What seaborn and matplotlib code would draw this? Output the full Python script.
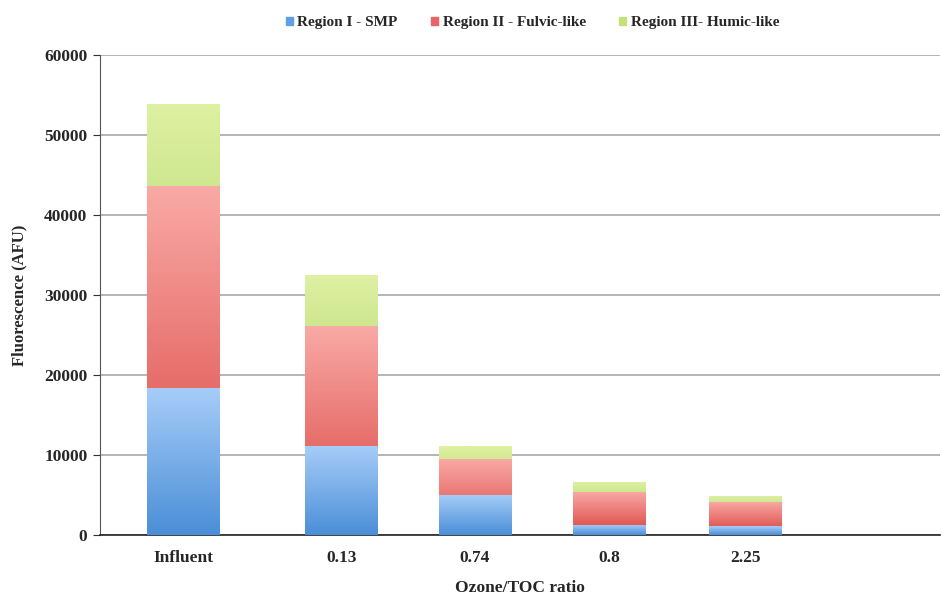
import numpy as np
import pandas as pd
import matplotlib
matplotlib.use("Agg")
import matplotlib.pyplot as plt
from matplotlib.colors import LinearSegmentedColormap
import seaborn as sns

# data
ratios = ["Influent", "0.13", "0.74", "0.8", "2.25"]
smp = [18400, 11200, 5000, 1250, 1100]
fulvic = [25200, 14900, 4500, 4150, 3050]
humic = [10300, 6400, 1600, 1250, 750]
series_names = ["Region I - SMP", "Region II - Fulvic-like", "Region III- Humic-like"]

# layout: bar centres (the first category is a bit wider in the original)
xpos = [0, 1.175, 2.17, 3.17, 4.18]

sns.set_style("white")
plt.rcParams['font.family'] = ['Liberation Serif', 'DejaVu Serif']
plt.rcParams['font.weight'] = 'bold'

# gradient colours (top, bottom) for each series
grads = [("#a6cdf8", "#4b8fd8"), ("#f9a9a5", "#d9413d"), ("#def0a2", "#8cc63f")]

fig = plt.figure(figsize=(9.42, 5.98), dpi=100)
ax = fig.add_axes([0.106, 0.105, 0.892, 0.803])

df = pd.DataFrame({"pos": xpos, "smp": smp, "fulvic": fulvic, "humic": humic})
df["c1"] = df["smp"]
df["c2"] = df["c1"] + df["fulvic"]
df["c3"] = df["c2"] + df["humic"]

# draw cumulative layers, tallest first so smaller ones sit on top
layers = [("c3", 2), ("c2", 1), ("c1", 0)]
for col, k in layers:
    n_before = len(ax.patches)
    sns.barplot(data=df, x="pos", y=col, native_scale=True, width=0.54,
                color=grads[k][1], ax=ax, errorbar=None, zorder=3)
    cmap = LinearSegmentedColormap.from_list("g%d" % k, [grads[k][1], grads[k][0]])
    for p in ax.patches[n_before:]:
        x0, y0 = p.get_x(), p.get_y()
        w, h = p.get_width(), p.get_height()
        p.set_facecolor("none")
        p.set_edgecolor("none")
        im = ax.imshow(np.linspace(0, 1, 64).reshape(-1, 1), cmap=cmap, origin="lower",
                       extent=[x0, x0 + w, y0, y0 + h], aspect="auto", zorder=3,
                       interpolation="bilinear")
        im.set_clip_path(p)

ax.set_xlim(-0.62, 5.63)
ax.set_ylim(0, 60000)
ax.set_xticks(xpos)
ax.set_xticklabels(ratios)
ax.set_yticks(range(0, 60001, 10000))
ax.set_xticks([(xpos[i] + xpos[i + 1]) / 2 for i in range(4)] + [5.18], minor=True)
ax.tick_params(axis="x", which="major", length=0, labelsize=12.5, pad=11)
ax.tick_params(axis="x", which="minor", length=4, direction="out", color="#333333")
ax.tick_params(axis="y", length=5, direction="out", labelsize=12.5, left=True,
               color="#333333", pad=4)
for lab in ax.get_xticklabels() + ax.get_yticklabels():
    lab.set_fontweight("bold")

ax.yaxis.grid(True, color="#a8a8a8", linewidth=1.2, zorder=0)
ax.set_axisbelow(True)
for s in ["top", "right"]:
    ax.spines[s].set_visible(False)
ax.spines["left"].set_color("#555555")
ax.spines["bottom"].set_color("#222222")
ax.spines["bottom"].set_linewidth(1.2)

ax.set_xlabel("Ozone/TOC ratio", fontsize=12.5, fontweight="bold", labelpad=10)
ax.set_ylabel("Fluorescence (AFU)", fontsize=12, fontweight="bold", labelpad=12)

handles = [plt.Rectangle((0, 0), 1, 1, color=c) for c in ["#5fa0e4", "#e8636a", "#c4e27a"]]
leg = ax.legend(handles, series_names, loc="lower center", bbox_to_anchor=(0.515, 1.025),
                ncol=3, frameon=False, handlelength=0.45, handleheight=0.45,
                handletextpad=0.3, columnspacing=2.2, prop={"weight": "bold", "size": 11})

fig.savefig("out.png", dpi=100)
